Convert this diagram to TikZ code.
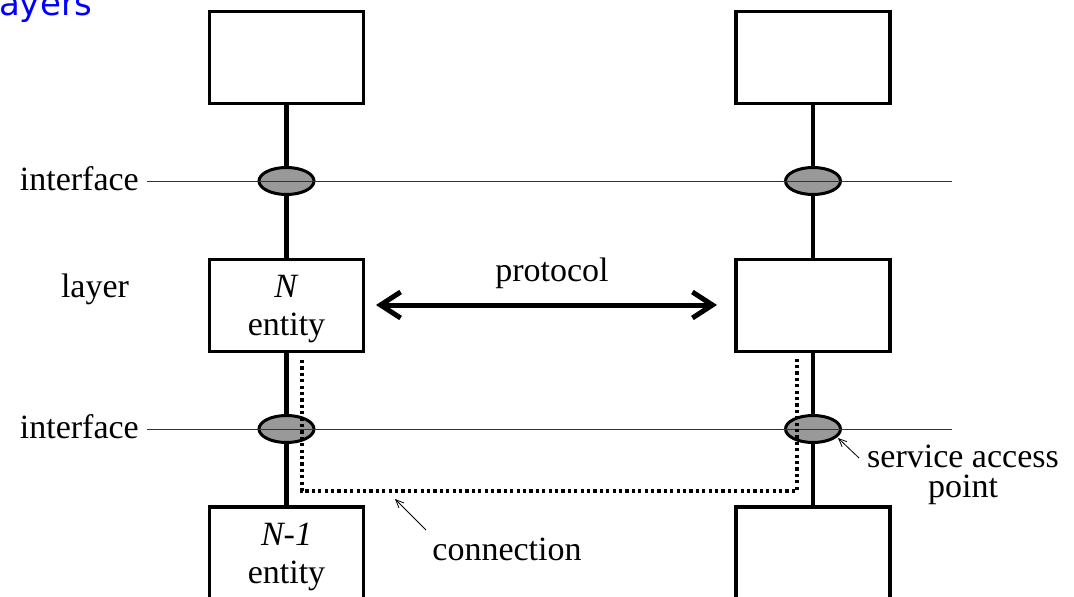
\documentclass[tikz,border=0pt]{standalone}
\usepackage{fontspec}
\setmainfont{Liberation Serif}
\newfontfamily\titlefont{DejaVu Sans}
\usetikzlibrary{arrows.meta,shapes.geometric}
\begin{document}
\begin{tikzpicture}[x=1pt,y=-1pt,
  ent/.style={draw,line width=3.3pt,minimum width=154pt,minimum height=92pt,inner sep=0pt,fill=white},
  sap/.style={draw,line width=3pt,fill=black!40,ellipse,minimum width=55pt,minimum height=27pt,inner sep=0pt},
  txt/.style={font=\fontsize{34}{38}\selectfont,inner sep=0pt},
  thick line/.style={line width=4.6pt},
  iface/.style={line width=0.9pt,black!80},
  conn/.style={line width=3.6pt,dash pattern=on 3.2pt off 3.2pt},
  pointer/.style={line width=0.8pt,-{Straight Barb[length=8pt,width=7pt]}}
]
\useasboundingbox (0,0) rectangle (1074,597);
% title
\node[anchor=base west,inner sep=0pt,text=blue,font=\titlefont\fontsize{34}{38}\selectfont] (title) at (-20,16) {Layers};
% interface lines
\coordinate (i1a) at (147,181); \coordinate (i1b) at (952,181);
\coordinate (i2a) at (147,429); \coordinate (i2b) at (952,429);
% vertical connectors
\coordinate (lt) at (286.5,57); \coordinate (lb) at (286.5,560);
\coordinate (rt) at (813,57); \coordinate (rb) at (813,560);
\draw[thick line] (lt) -- (lb);
\draw[thick line] (rt) -- (rb);
\draw[iface] (i1a) -- (i1b);
\draw[iface] (i2a) -- (i2b);
% boxes
\node[ent] (tl) at (286.5,57.5) {};
\node[ent] (tr) at (813,57.5) {};
\node[ent] (ml) at (286.5,305.5) {};
\node[ent] (mr) at (813,305.5) {};
\node[ent] (bl) at (286.5,553) {};
\node[ent] (br) at (813,553) {};
% saps
\node[sap] (s1l) at (286.5,181) {};
\node[sap] (s1r) at (813,181) {};
\node[sap] (s2l) at (286.5,429) {};
\node[sap] (s2r) at (813,429) {};
% interface line over saps
\draw[iface] (s2l.west) -- (s2l.east);
\draw[iface] (s2r.west) -- (s2r.east);
\draw[iface] (s1l.west) -- (s1l.east);
\draw[iface] (s1r.west) -- (s1r.east);
% connection
\coordinate (c1) at (302,360); \coordinate (c2) at (302,491);
\coordinate (c3) at (797,491); \coordinate (c4) at (797,357);
\draw[conn] (c1) -- (c2) -- (c3) -- (c4);
% entity texts
\node[txt,anchor=base] (nl) at (286.5,297) {\textit{N}};
\node[txt,anchor=base] (el) at (286.5,335) {entity};
\node[txt,anchor=base] (n1l) at (286.5,545) {\textit{N-1}};
\node[txt,anchor=base] (e1l) at (286.5,583) {entity};
% labels
\node[txt,anchor=base east] (if1) at (139,190) {interface};
\node[txt,anchor=base east] (if2) at (139,438) {interface};
\node[txt,anchor=base] (lay) at (95,297) {layer};
\node[txt,anchor=base] (prot) at (552,281) {protocol};
\coordinate (pa) at (376,305); \coordinate (pb) at (717,305);
\draw[line width=5pt,{Straight Barb[length=20pt,width=26pt,line width=5pt]}-{Straight Barb[length=20pt,width=26pt,line width=5pt]}] (pa) -- (pb);
\node[txt,anchor=base,align=center,font=\fontsize{34}{30}\selectfont] (sap) at (963,497) {service access\\point};
\node[txt,anchor=base] (con) at (507,560) {connection};
\coordinate (sapt) at (859,458);
\draw[pointer] (sapt) -- (838,438);
\coordinate (cont) at (426,530);
\draw[pointer] (cont) -- (395,499);
\end{tikzpicture}
\end{document}
